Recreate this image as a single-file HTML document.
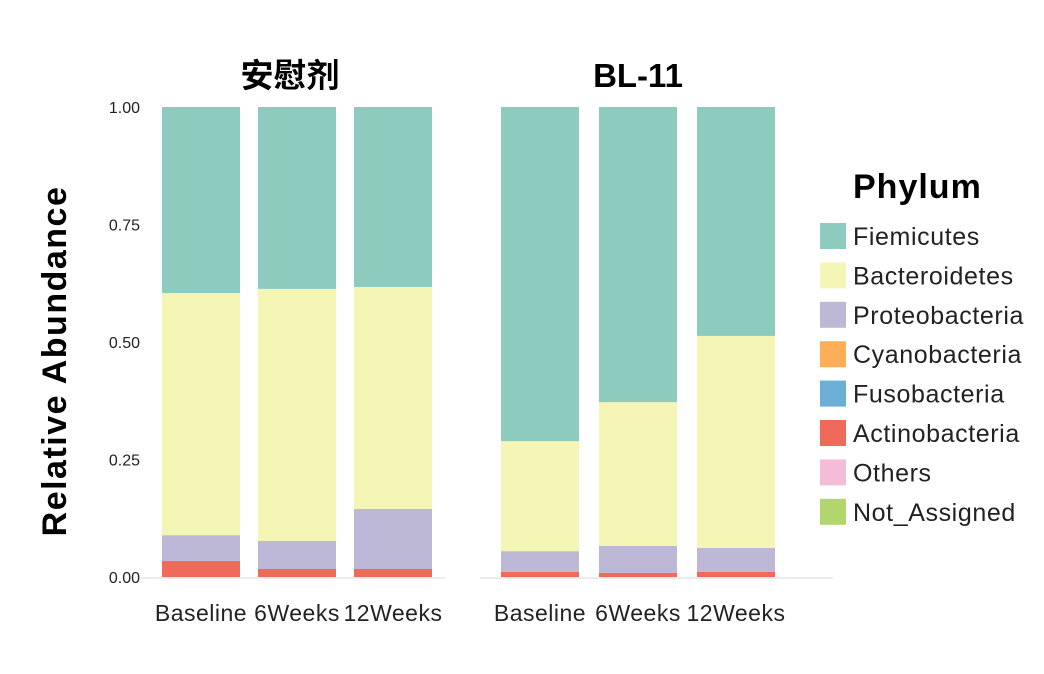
<!DOCTYPE html>
<html><head><meta charset="utf-8"><style>
body{margin:0;background:#fff;}
svg text{font-family:"Liberation Sans","Noto Sans CJK SC",sans-serif;}
</style></head><body>
<svg id="c" width="1044" height="669"></svg>
<script>
const panels=["安慰剂","BL-11"];
const categories=["Baseline","6Weeks","12Weeks"];
const phyla=["Fiemicutes","Bacteroidetes","Proteobacteria","Cyanobacteria","Fusobacteria","Actinobacteria","Others","Not_Assigned"];
const colors=["#8dcbbf","#f5f5b5","#bcb8d6","#fdae56","#6baed6","#ef6a5a","#f4bcd8","#b0d66c"];
// stack bottom-up values per bar
const actino=[[0.034,0.017,0.017],[0.011,0.009,0.011]];
const proteo=[[0.055,0.060,0.128],[0.044,0.057,0.051]];
const bactero=[[0.515,0.536,0.472],[0.234,0.306,0.451]];
const yTicks=[0,0.25,0.5,0.75,1];
const yTickLabels=["0.00","0.25","0.50","0.75","1.00"];
const NS="http://www.w3.org/2000/svg";
const svg=document.getElementById('c');
function mk(t,a,p){const e=document.createElementNS(NS,t);for(const k in a)e.setAttribute(k,a[k]);(p||svg).appendChild(e);return e;}
const y0=577,y1=107;
const y=v=>y0-(y0-y1)*v;
const panelX=[[150,445],[490,833]];
const barStart=[[162,258,354],[501,599,697]];
const bw=78;
yTicks.forEach((v,i)=>{const t=mk('text',{x:140,y:y(v)+6,'text-anchor':'end','font-size':16,fill:'#222'});t.textContent=yTickLabels[i];
});
const yt=mk('text',{x:66,y:361,'text-anchor':'middle','font-size':34,'font-weight':'bold','letter-spacing':1.5,transform:'rotate(-90 66 361)'});yt.textContent="Relative Abundance";

panels.forEach((p,pi)=>{
  const [px0,px1]=panelX[pi];
  const ln=mk('line',{x1:px0-10,x2:px1,y1:y0+1,y2:y0+1,stroke:'#e6e6e6','stroke-width':1.5});
  
  const tt=mk('text',{x:pi==0?290:638,y:87,'text-anchor':'middle','font-size':33,'font-weight':'bold'});tt.textContent=p;
  
  categories.forEach((c,ci)=>{
    const x=barStart[pi][ci];
    const segs=[[actino[pi][ci],colors[5]],[proteo[pi][ci],colors[2]],[bactero[pi][ci],colors[1]]];
    let acc=0;
    const rest=1-segs.reduce((s,q)=>s+q[0],0);
    segs.push([rest,colors[0]]);
    segs.forEach(([v,col])=>{
      const r=mk('rect',{x:x,y:y(acc+v),width:bw,height:y(acc)-y(acc+v),fill:col});
      
      acc+=v;
    });
    const lt=mk('text',{x:x+bw/2,y:621,'text-anchor':'middle','font-size':23,'letter-spacing':0.5,fill:'#222'});lt.textContent=c;
    
  });
});
const lg=mk('text',{x:853,y:198,'font-size':34,'font-weight':'bold','letter-spacing':1});lg.textContent="Phylum";

phyla.forEach((n,i)=>{
  const yy=223+i*39.4;
  const r=mk('rect',{x:820,y:yy,width:26,height:26,fill:colors[i]});
  
  const t=mk('text',{x:853,y:yy+22,'font-size':25,'letter-spacing':0.6,fill:'#222'});t.textContent=n;
  
});
</script>
</body></html>
